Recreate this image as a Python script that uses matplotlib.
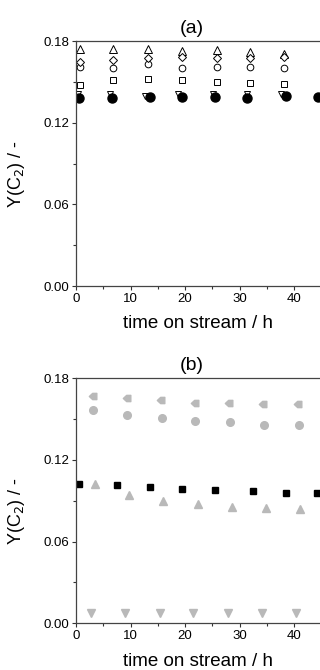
import matplotlib
matplotlib.use("Agg")
import matplotlib.pyplot as plt
from matplotlib.path import Path

plt.rcParams['font.family'] = ['Liberation Sans', 'DejaVu Sans']

# panel (a) data
t_a = [0.7, 6.7, 13.2, 19.4, 25.8, 31.9, 38.2]
a_tri_up = [0.1739, 0.1739, 0.1739, 0.1727, 0.1734, 0.1717, 0.1702]
a_diamond = [0.1648, 0.1660, 0.1673, 0.1680, 0.1673, 0.1673, 0.1685]
a_circle = [0.1607, 0.1600, 0.1629, 0.1604, 0.1611, 0.1611, 0.1600]
a_square = [0.1477, 0.1513, 0.1520, 0.1513, 0.1501, 0.1494, 0.1482]
t_a_down = [0.4, 6.3, 12.7, 18.8, 25.2, 31.3, 37.6]
a_tri_down = [0.1408, 0.1408, 0.1396, 0.1408, 0.1408, 0.1408, 0.1408]
t_a_fill = [0.55, 6.55, 13.6, 19.4, 25.5, 31.4, 38.5, 44.4]
a_fill = [0.1379, 0.1379, 0.1386, 0.1391, 0.1386, 0.1379, 0.1396, 0.1386]

# panel (b) data
t_b_pent = [3.1, 9.3, 15.6, 21.8, 28.1, 34.4, 40.7]
b_pent = [0.1670, 0.1653, 0.1638, 0.1620, 0.1620, 0.1611, 0.1611]
t_b_circ = [3.2, 9.4, 15.7, 21.9, 28.2, 34.5, 40.9]
b_circ = [0.1567, 0.1528, 0.1510, 0.1489, 0.1479, 0.1457, 0.1457]
t_b_sq = [0.55, 7.5, 13.5, 19.4, 25.5, 32.5, 38.5, 44.3]
b_sq = [0.1023, 0.1016, 0.0999, 0.0989, 0.0979, 0.0974, 0.0955, 0.0955]
t_b_tri = [3.5, 9.8, 16.0, 22.3, 28.6, 34.8, 41.1]
b_tri = [0.1023, 0.0943, 0.0901, 0.0876, 0.0857, 0.0849, 0.0840]
t_b_down = [2.7, 9.0, 15.4, 21.5, 27.8, 34.2, 40.4]
b_down = [0.0078, 0.0078, 0.0078, 0.0078, 0.0078, 0.0078, 0.0078]

gray = '#b9b9b9'
# left pointing pentagon marker
pent = Path([(-1, 0), (-0.2, 0.75), (0.8, 0.75), (0.8, -0.75), (-0.2, -0.75), (-1, 0)],
            [Path.MOVETO, Path.LINETO, Path.LINETO, Path.LINETO, Path.LINETO, Path.CLOSEPOLY])

fig = plt.figure(figsize=(3.2, 6.7), dpi=100)
ax_a = fig.add_axes([0.2375, 0.5731, 0.8516, 0.3657])
ax_b = fig.add_axes([0.2375, 0.0697, 0.8516, 0.3657])

op = dict(ls='none', mfc='white', mec='black', mew=0.7)
ax_a.plot(t_a_down, a_tri_down, marker='v', ms=5, **op)
ax_a.plot(t_a, a_tri_up, marker='^', ms=5.5, **op)
ax_a.plot(t_a, a_circle, marker='o', ms=4.8, **op)
ax_a.plot(t_a, a_diamond, marker='D', ms=4, **op)
ax_a.plot(t_a, a_square, marker='s', ms=4.2, **op)
ax_a.plot(t_a_fill, a_fill, ls='none', marker='o', ms=6.5, color='black')

ax_b.plot(t_b_pent, b_pent, ls='none', marker=pent, ms=6, color=gray)
ax_b.plot(t_b_circ, b_circ, ls='none', marker='o', ms=5.5, color=gray)
ax_b.plot(t_b_sq, b_sq, ls='none', marker='s', ms=5, color='black')
ax_b.plot(t_b_tri, b_tri, ls='none', marker='^', ms=6, color=gray)
ax_b.plot(t_b_down, b_down, ls='none', marker='v', ms=6, color=gray)

for ax, lab, xl_y in [(ax_a, '(a)', -0.12), (ax_b, '(b)', -0.12)]:
    ax.set_xlim(0, 50)
    ax.set_ylim(0, 0.18)
    ax.set_xticks([0, 10, 20, 30, 40])
    ax.set_xticks([5, 15, 25, 35, 45], minor=True)
    ax.set_yticks([0, 0.06, 0.12, 0.18])
    ax.set_yticks([0.03, 0.09, 0.15], minor=True)
    ax.set_yticklabels(['0.00', '0.06', '0.12', '0.18'])
    ax.tick_params(direction='out', labelsize=9.5, length=3, width=0.8, color='#333333', pad=2)
    ax.tick_params(which='minor', direction='out', length=2, width=0.8, color='#333333')
    ax.spines['right'].set_visible(False)
    for s in ax.spines.values():
        s.set_linewidth(0.9)
        s.set_color('#444444')
    ax.set_xlabel('time on stream / h', fontsize=13.5)
    ax.xaxis.set_label_coords(0.448, xl_y)
    ax.set_ylabel('Y(C$_2$) / -', fontsize=13)
    ax.yaxis.set_label_coords(-0.18, 0.457)
    ax.set_title(lab, fontsize=14, pad=6, x=0.426)

fig.savefig('out.png', dpi=100)
